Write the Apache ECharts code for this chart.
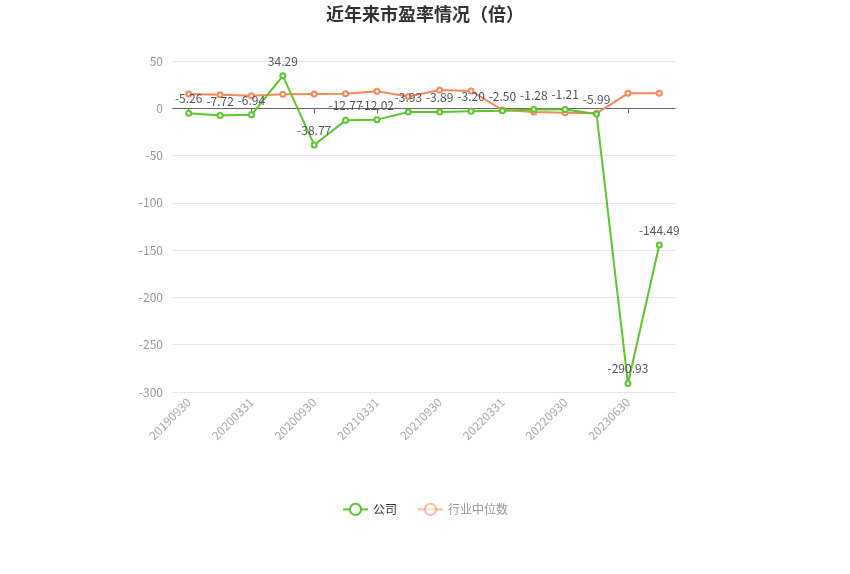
<!DOCTYPE html>
<html>
<head>
    <meta charset="utf-8">
    <title>近年来市盈率情况</title>
    <script src="https://cdn.jsdelivr.net/npm/echarts@6/dist/echarts.min.js"></script>
    <style>
      html, body { margin: 0; padding: 0; background: #fff; }
      #main { width: 850px; height: 574px; }
    </style>
</head>
<body>
    <div id="main"></div>
    <script type="text/javascript">
    // 报告期
    var dates = ['20190930', '20191231', '20200331', '20200630', '20200930', '20201231',
                 '20210331', '20210630', '20210930', '20211231', '20220331', '20220630',
                 '20220930', '20230331', '20230630', '20230930'];
    // 公司市盈率
    var company = [-5.26, -7.72, -6.94, 34.29, -38.77, -12.77, -12.02, -3.93,
                   -3.89, -3.20, -2.50, -1.28, -1.21, -5.99, -290.93, -144.49];
    // 行业中位数
    var industry = [15.1, 14.4, 13.3, 14.8, 15.1, 15.4, 18.0, 12.5,
                    19.3, 18.3, -1.8, -3.9, -4.6, -5.3, 15.8, 15.8];
    var yTicks = { min: -300, max: 50, step: 50 };

    var chart = echarts.init(document.getElementById('main'));

    var option = {
        backgroundColor: '#fff',
        textStyle: { fontFamily: 'Microsoft YaHei, "Noto Sans CJK SC", sans-serif' },
        title: {
            text: '近年来市盈率情况（倍）',
            left: 'center',
            top: 0,
            textStyle: { fontSize: 18, fontWeight: 'bold', color: '#333' }
        },
        legend: {
            bottom: 53,
            left: 'center',
            itemWidth: 25,
            itemHeight: 14,
            itemGap: 20,
            data: [
                { name: '公司', textStyle: { color: '#333' } },
                { name: '行业中位数', textStyle: { color: '#999' },
                  itemStyle: { opacity: 0.55 }, lineStyle: { opacity: 0.55 } }
            ]
        },
        grid: { left: 173, right: 175, top: 61, bottom: 182 },
        xAxis: [{
            type: 'category',
            data: dates,
            position: 'bottom',
            axisLine: { show: false, onZero: false },
            axisTick: { show: false },
            axisLabel: { interval: 1, rotate: 45, color: '#aaa', fontSize: 12, margin: 8 }
        }, {
            type: 'category',
            data: dates,
            position: 'bottom',
            axisLine: { show: true, onZero: true, lineStyle: { color: '#666' } },
            axisTick: { show: true, interval: 1, alignWithLabel: true, length: 5, lineStyle: { color: '#666' } },
            axisLabel: { show: false, interval: 1 }
        }],
        yAxis: {
            type: 'value',
            min: yTicks.min,
            max: yTicks.max,
            interval: yTicks.step,
            axisLine: { show: false },
            axisTick: { show: false },
            axisLabel: { color: '#999', fontSize: 12, margin: 10 },
            splitLine: { lineStyle: { color: '#e4e6f0' } }
        },
        series: [{
            name: '公司',
            type: 'line',
            xAxisIndex: 0,
            data: company,
            symbol: 'emptyCircle',
            symbolSize: 5,
            color: '#5ac72b',
            lineStyle: { width: 2, color: '#5ac72b' },
            label: {
                show: true,
                position: 'top',
                color: '#555',
                fontSize: 12,
                formatter: function (p) { return p.value.toFixed(2); }
            },
            z: 3
        }, {
            name: '行业中位数',
            type: 'line',
            xAxisIndex: 0,
            data: industry,
            symbol: 'emptyCircle',
            symbolSize: 5,
            color: '#f7885a',
            lineStyle: { width: 2, color: '#f7885a' },
            z: 2
        }]
    };

    chart.setOption(option);
    </script>
</body>
</html>
